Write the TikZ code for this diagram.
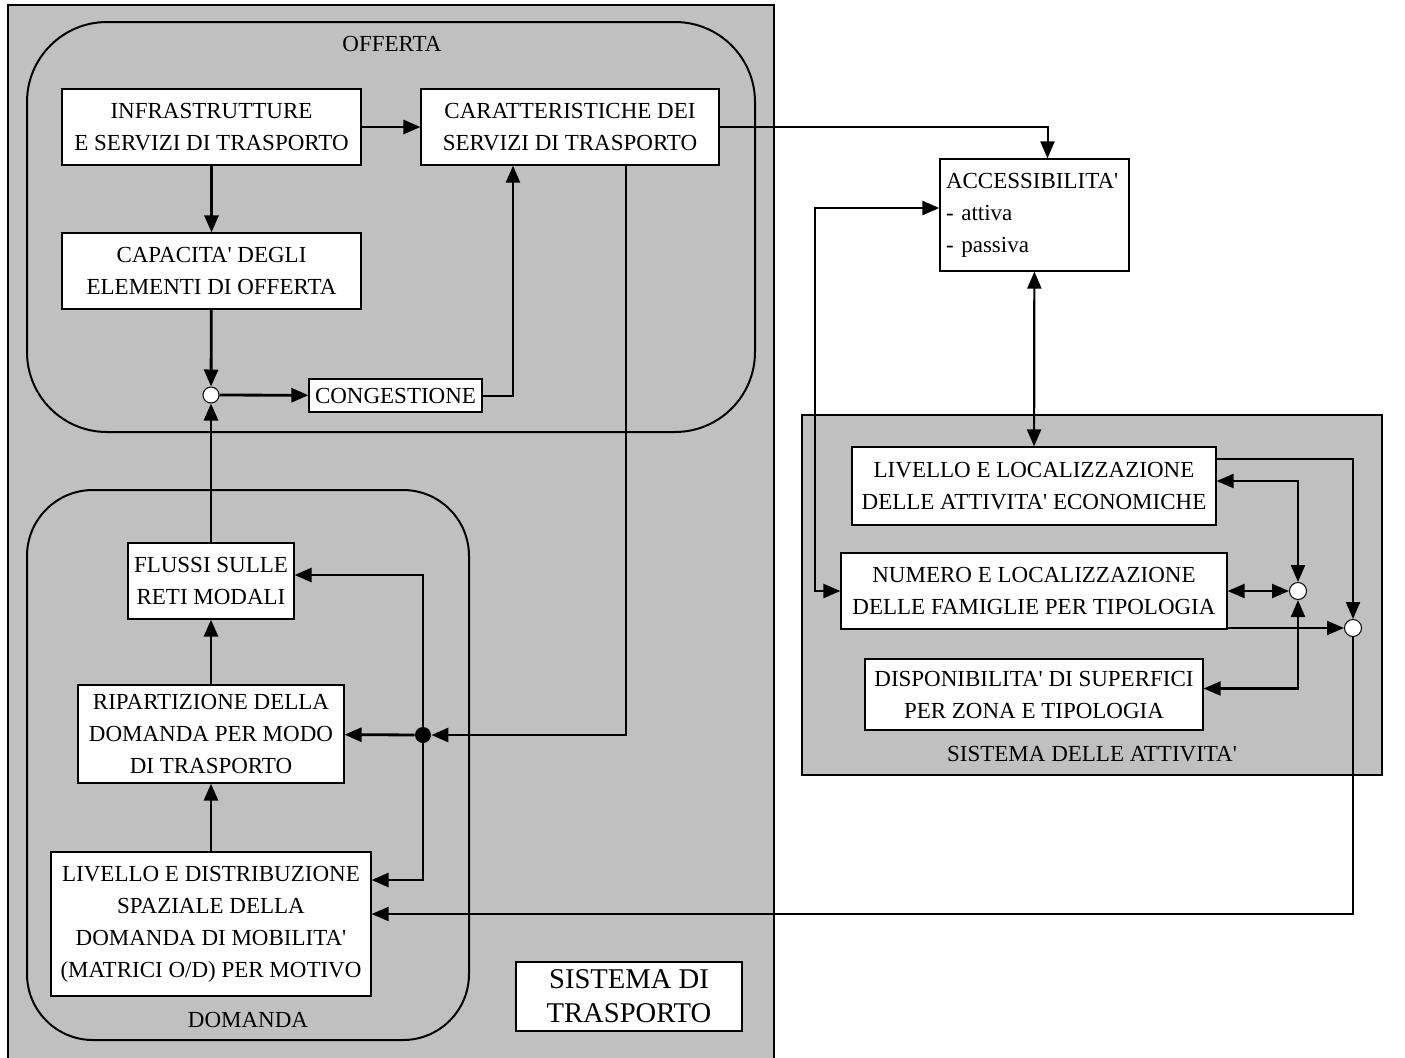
\documentclass[tikz,border=0pt]{standalone}
\usepackage{fontspec}
\setmainfont{Liberation Serif}
\usetikzlibrary{arrows.meta}
\definecolor{panelgray}{RGB}{192,192,192}
\newcommand{\ap}{\textquotesingle}
\tikzset{
  txt/.style={font=\fontsize{11.5}{16}\selectfont},
  boxnode/.style={txt, draw, fill=white, line width=0.6pt, align=center, inner sep=0pt},
  joint/.style={circle, draw, fill=white, line width=0.5pt, inner sep=0pt, minimum size=7.5pt},
  hub/.style={circle, fill=black, inner sep=0pt, minimum size=8pt},
  flow/.style={line width=1.4pt, -{Triangle[length=8.5pt,width=7pt]}},
  thinflow/.style={line width=1pt, -{Triangle[length=8.5pt,width=7pt]}},
  twoway/.style={line width=1.1pt, {Triangle[length=8.5pt,width=7pt]}-{Triangle[length=8.5pt,width=7pt]}}
}
\begin{document}
\begin{tikzpicture}[x=0.5pt, y=-0.5pt]
\useasboundingbox (0,0) rectangle (1405,1057);
\fill[white] (0,0) rectangle (1405,1057);

\draw[line width=1pt, fill=panelgray] (8,5) rectangle (774,1062);
\draw[line width=1pt, fill=panelgray] (802,415) rectangle (1382,775);
\draw[line width=1pt, rounded corners=40pt] (27,22) rectangle (755,432);
\draw[line width=1pt, rounded corners=33pt] (27,490) rectangle (469,1040);

\node[txt] (offlbl) at (392,44) {OFFERTA};
\node[txt] (domlbl) at (248,1020) {DOMANDA};
\node[txt] (attlbl) at (1092,754) {SISTEMA DELLE ATTIVITA\ap};

\node[boxnode, minimum width=149.5pt, minimum height=38pt] (infra) at (211.5,127) {INFRASTRUTTURE\\E SERVIZI DI TRASPORTO};
\node[boxnode, minimum width=149pt, minimum height=38pt] (caratt) at (570,127) {CARATTERISTICHE DEI\\SERVIZI DI TRASPORTO};
\node[boxnode, minimum width=149.5pt, minimum height=38pt] (capac) at (211.5,271) {CAPACITA\ap{} DEGLI\\ELEMENTI DI OFFERTA};
\node[joint, minimum width=7pt, minimum height=8pt] (cong0) at (211,395) {};
\node[boxnode, minimum width=86.5pt, minimum height=16.5pt] (congest) at (395.5,395.5) {CONGESTIONE};

\node[boxnode, minimum width=83pt, minimum height=38pt] (flussi) at (211,581) {FLUSSI SULLE\\RETI MODALI};
\node[boxnode, minimum width=133pt, minimum height=49pt] (ripart) at (211,734) {RIPARTIZIONE DELLA\\DOMANDA PER MODO\\DI TRASPORTO};
\node[boxnode, minimum width=160pt, minimum height=72pt] (livdom) at (211,924) {LIVELLO E DISTRIBUZIONE\\SPAZIALE DELLA\\DOMANDA DI MOBILITA\ap\\(MATRICI O/D) PER MOTIVO};
\node[hub] (dot) at (423,735) {};
\node[boxnode, line width=1.2pt, minimum width=113pt, minimum height=34.5pt, font=\fontsize{14.3}{17}\selectfont] (sistra) at (629,996.5) {SISTEMA DI\\TRASPORTO};

\node[boxnode, align=left, text width=88.5pt, inner xsep=3pt, minimum height=56pt] (access) at (1034.5,215) {ACCESSIBILITA\ap\\- attiva\\- passiva};
\node[boxnode, minimum width=182pt, minimum height=39pt] (livatt) at (1034,486) {LIVELLO E LOCALIZZAZIONE\\DELLE ATTIVITA\ap{} ECONOMICHE};
\node[boxnode, minimum width=193pt, minimum height=38pt] (numero) at (1034,591) {NUMERO E LOCALIZZAZIONE\\DELLE FAMIGLIE PER TIPOLOGIA};
\node[boxnode, minimum width=169pt, minimum height=35.5pt] (dispon) at (1034,694.5) {DISPONIBILITA\ap{} DI SUPERFICI\\PER ZONA E TIPOLOGIA};
\node[joint, minimum size=8.5pt] (c1) at (1298,591) {};
\node[joint, minimum size=8.5pt] (c2) at (1353,628) {};
\coordinate (lft) at (815,400);

\draw[flow] (infra) -- (caratt);
\draw[flow] (infra) -- (capac);
\draw[flow] (capac) -- (cong0);
\draw[flow] (cong0) -- (congest);
\draw[thinflow] (congest.east) -| ([xshift=-28.5pt]caratt.south);
\draw[flow] ([xshift=28pt]caratt.south) |- (dot);
\draw[thinflow] (caratt.east) -| ([xshift=6.5pt]access.north);

\draw[flow] (flussi) -- (cong0);
\draw[flow] (ripart) -- (flussi);
\draw[flow] (livdom) -- (ripart);
\draw[flow] (dot) -- (ripart);
\draw[flow] (dot) |- ([yshift=3pt]flussi.east);
\draw[flow] (dot) |- ([yshift=22pt]livdom.east);

\draw[twoway] (access) -- (livatt);
\draw[twoway] ([yshift=3.5pt]access.west) -| (lft) |- (numero.west);
\draw[thinflow] ([yshift=13.5pt]livatt.east) -| (c2);
\draw[twoway] ([yshift=2.5pt]livatt.east) -| (c1);
\draw[twoway] (numero.east) -- (c1);
\draw[thinflow] ([yshift=-18.5pt]numero.east) -- (c2);
\draw[twoway] ([yshift=3pt]dispon.east) -| (c1);
\draw[thinflow] (c2) |- ([yshift=5pt]livdom.east);
\end{tikzpicture}
\end{document}
